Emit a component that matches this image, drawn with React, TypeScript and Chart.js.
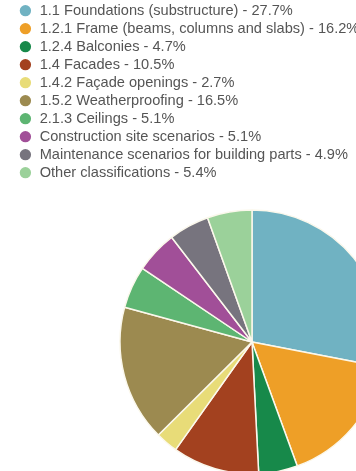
import React, { useEffect, useRef } from "react";
import { Chart, registerables } from "chart.js";

Chart.register(...registerables);

const categories = [
  "1.1 Foundations (substructure)",
  "1.2.1 Frame (beams, columns and slabs)",
  "1.2.4 Balconies",
  "1.4 Facades",
  "1.4.2 Façade openings",
  "1.5.2 Weatherproofing",
  "2.1.3 Ceilings",
  "Construction site scenarios",
  "Maintenance scenarios for building parts",
  "Other classifications",
];

const shares = [27.7, 16.2, 4.7, 10.5, 2.7, 16.5, 5.1, 5.1, 4.9, 5.4];

const colors = [
  "#70b2c2",
  "#ee9f27",
  "#17894a",
  "#a3411f",
  "#e8dc78",
  "#9c8a50",
  "#5db572",
  "#a14f98",
  "#77747e",
  "#9bd19a",
];

export default function App() {
  const ref = useRef<HTMLCanvasElement | null>(null);

  useEffect(() => {
    if (!ref.current) return;
    const chart = new Chart(ref.current, {
      type: "pie",
      data: {
        labels: categories.map((c, i) => `${c} - ${shares[i]}%`),
        datasets: [
          {
            data: shares,
            backgroundColor: colors,
            borderColor: "#fbf8ec",
            borderWidth: 1.5,
            radius: 132,
          } as any,
        ],
      },
      options: {
        animation: false,
        responsive: false,
        layout: { padding: { left: 15, top: 4, right: 0, bottom: 0 } },
        plugins: {
          tooltip: { enabled: false },
          legend: {
            position: "chartArea" as any,
            align: "start",
            labels: {
              usePointStyle: true,
              pointStyle: "circle",
              boxWidth: 14,
              boxHeight: 8,
              padding: 3.4,
              color: "#555",
              font: { size: 14.6, family: "'Liberation Sans', Arial, sans-serif" },
              generateLabels: (ch: any) => {
                const items = Chart.overrides.pie.plugins.legend.labels.generateLabels(ch);
                return items.map((it: any) => ({ ...it, lineWidth: 0, strokeStyle: "rgba(0,0,0,0)" }));
              },
            },
          },
        },
      },
    });
    return () => chart.destroy();
  }, []);

  return (
    <div style={{ position: "absolute", left: 0, top: 0, width: 356, height: 471, overflow: "hidden", background: "#fff" }}>
      <canvas ref={ref} width={489} height={680} style={{ display: "block" }} />
    </div>
  );
}
